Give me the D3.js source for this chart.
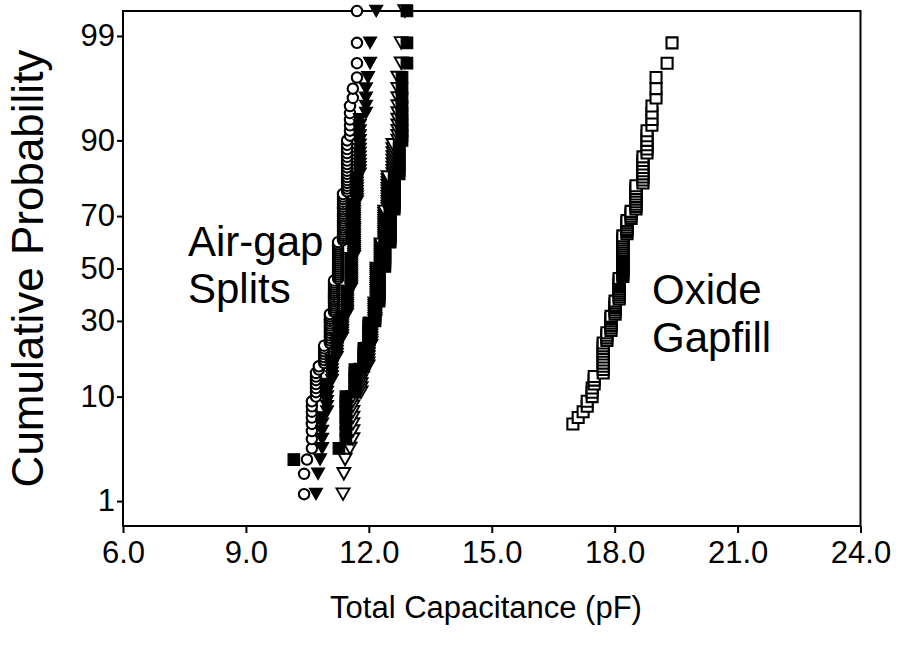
<!DOCTYPE html>
<html>
<head>
<meta charset="utf-8">
<script src="https://cdn.jsdelivr.net/npm/d3@7"></script>
<style>
  body { margin: 0; background: #fff; }
  text { font-family: "Liberation Sans", Arial, sans-serif; fill: #000; }
</style>
</head>
<body>
<svg id="chart"></svg>
<script>

// svg params
var svgWidth = 908, svgHeight = 649;

// axis values
var capTicks = [6, 9, 12, 15, 18, 21, 24];
var probTicks = [1, 10, 30, 50, 70, 90, 99];
var nSites = 125;

// each series: capacitance steps (pF) and how many sites sit on each step, from the lowest rank up
var circleStart = 2;
var circleCap   = [10.42, 10.49, 10.61, 10.71, 10.78, 10.91, 11.05, 11.15, 11.25, 11.37, 11.47, 11.54, 11.61, 11.71];
var circleCount = [2, 1, 8, 7, 2, 7, 13, 16, 19, 21, 16, 6, 2, 4];

var fTriStart = 2;
var fTriCap   = [10.71, 10.76, 10.81, 10.86, 10.98, 11.10, 11.22, 11.35, 11.47, 11.57, 11.64, 11.71, 11.78, 11.93, 11.98, 12.03, 12.18];
var fTriCount = [1, 1, 1, 5, 7, 7, 7, 10, 12, 16, 25, 10, 14, 4, 1, 2, 1];

var oTriStart = 2;
var oTriCap   = [11.37, 11.39, 11.42, 11.54, 11.61, 11.81, 11.98, 12.05, 12.15, 12.20, 12.30, 12.39, 12.47, 12.59, 12.71, 12.79, 12.88];
var oTriCount = [1, 1, 1, 1, 8, 7, 7, 10, 9, 17, 12, 15, 13, 9, 10, 2, 1];

var fSqStart = 4;
var fSqCap   = [10.17, 11.27, 11.44, 11.66, 11.88, 12.00, 12.15, 12.25, 12.39, 12.52, 12.62, 12.74, 12.81, 12.93];
var fSqCount = [1, 1, 8, 7, 7, 10, 9, 17, 12, 15, 13, 9, 10, 3];

var oxStart = 8;
var oxCap   = [16.98, 17.11, 17.23, 17.33, 17.45, 17.50, 17.72, 17.81, 17.91, 18.01, 18.11, 18.20, 18.30, 18.40, 18.52, 18.69, 18.79, 18.91, 19.01, 19.28, 19.40];
var oxCount = [1, 1, 1, 2, 3, 3, 11, 4, 7, 7, 11, 21, 7, 4, 10, 9, 6, 4, 3, 1, 1];

// inverse normal cdf (Acklam)
function probit(p) {
  var a = [-3.969683028665376e+01, 2.209460984245205e+02, -2.759285104469687e+02, 1.383577518672690e+02, -3.066479806614716e+01, 2.506628277459239e+00];
  var b = [-5.447609879822406e+01, 1.615858368580409e+02, -1.556989798598866e+02, 6.680131188771972e+01, -1.328068155288572e+01];
  var c = [-7.784894002430293e-03, -3.223964580411365e-01, -2.400758277161838e+00, -2.549732539343734e+00, 4.374664141464968e+00, 2.938163982698783e+00];
  var d = [7.784695709041462e-03, 3.224671290700398e-01, 2.445134137142996e+00, 3.754408661907416e+00];
  var q, r;
  if (p < 0.02425) {
    q = Math.sqrt(-2 * Math.log(p));
    return (((((c[0]*q+c[1])*q+c[2])*q+c[3])*q+c[4])*q+c[5]) / ((((d[0]*q+d[1])*q+d[2])*q+d[3])*q+1);
  }
  if (p > 1 - 0.02425) {
    q = Math.sqrt(-2 * Math.log(1 - p));
    return -(((((c[0]*q+c[1])*q+c[2])*q+c[3])*q+c[4])*q+c[5]) / ((((d[0]*q+d[1])*q+d[2])*q+d[3])*q+1);
  }
  q = p - 0.5; r = q * q;
  return (((((a[0]*r+a[1])*r+a[2])*r+a[3])*r+a[4])*r+a[5])*q / (((((b[0]*r+b[1])*r+b[2])*r+b[3])*r+b[4])*r+1);
}

// expand steps into ranked points, plotting position (i - 0.5) / n
function rankPoints(start, caps, counts) {
  var pts = [], rank = start;
  caps.forEach(function (v, k) {
    for (var j = 0; j < counts[k]; j++) {
      pts.push({cap: v, z: probit((rank - 0.5) / nSites)});
      rank++;
    }
  });
  return pts;
}

var plotLeft = 123, plotRight = 860.5, plotTop = 11, plotBottom = 526;

var xScale = d3.scaleLinear()
  .domain([6, 24])
  .range([plotLeft, plotRight]);

var yScale = d3.scaleLinear()
  .domain([probit(0.005), probit(0.995)])
  .range([plotBottom, plotTop])
  .clamp(true);

var svg = d3.select("#chart")
  .attr("width", svgWidth)
  .attr("height", svgHeight);

// axes
svg.append("g")
  .attr("transform", "translate(0," + plotBottom + ")")
  .call(d3.axisBottom(xScale).tickValues(capTicks).tickFormat(d3.format(".1f")).tickSize(7).tickPadding(8))
  .call(function (g) {
    g.select(".domain").remove();
    g.selectAll("line").attr("stroke", "#000").attr("stroke-width", 2);
    g.selectAll("text").attr("font-size", 31);
  });

svg.append("g")
  .attr("transform", "translate(" + plotLeft + ",0)")
  .call(d3.axisLeft(yScale).tickValues(probTicks.map(function (t) { return probit(t / 100); }))
    .tickFormat(function (d, i) { return probTicks[i]; }).tickSize(6).tickPadding(2))
  .call(function (g) {
    g.select(".domain").remove();
    g.selectAll("line").attr("stroke", "#000").attr("stroke-width", 2);
    g.selectAll("text").attr("font-size", 31);
  });

// frame
svg.append("rect")
  .attr("x", plotLeft)
  .attr("y", plotTop)
  .attr("width", plotRight - plotLeft)
  .attr("height", plotBottom - plotTop)
  .attr("fill", "none")
  .attr("stroke", "#000")
  .attr("stroke-width", 2);

// marker shapes
function circlePath(r) {
  return "M" + r + ",0A" + r + "," + r + " 0 1,1 " + (-r) + ",0A" + r + "," + r + " 0 1,1 " + r + ",0Z";
}
function triDownPath(w, h) {
  return "M" + (-w / 2) + "," + (-h / 2) + "L" + (w / 2) + "," + (-h / 2) + "L0," + (h / 2) + "Z";
}
function squarePath(s) {
  return "M" + (-s / 2) + "," + (-s / 2) + "h" + s + "v" + s + "h" + (-s) + "Z";
}

function drawSeries(pts, path, fill, sw) {
  svg.append("g")
    .selectAll("path")
    .data(pts)
    .enter()
    .append("path")
    .attr("transform", function (d) { return "translate(" + [xScale(d.cap), yScale(d.z)] + ")"; })
    .attr("d", path)
    .attr("fill", fill)
    .attr("stroke", "#000")
    .attr("stroke-width", sw);
}

drawSeries(rankPoints(circleStart, circleCap, circleCount), circlePath(5.2), "#fff", 2.1);
drawSeries(rankPoints(fTriStart, fTriCap, fTriCount), triDownPath(13, 11.5), "#000", 1.2);
drawSeries(rankPoints(oTriStart, oTriCap, oTriCount), triDownPath(13, 11.5), "#fff", 1.9);
drawSeries(rankPoints(fSqStart, fSqCap, fSqCount), squarePath(11.5), "#000", 1.2);
drawSeries(rankPoints(oxStart, oxCap, oxCount), squarePath(11), "#fff", 2.1);

// axis titles
svg.append("text")
  .text("Total Capacitance (pF)")
  .attr("x", 486)
  .attr("y", 618)
  .attr("text-anchor", "middle")
  .attr("font-size", 31);

svg.append("text")
  .text("Cumulative Probability")
  .attr("transform", "translate(43," + (plotTop + plotBottom) / 2 + ") rotate(-90)")
  .attr("text-anchor", "middle")
  .attr("font-size", 44);

// labels
function labelText(label, x, y) {
  svg.append("text")
    .text(label)
    .attr("x", x)
    .attr("y", y)
    .attr("font-size", 42);
}

labelText("Air-gap", 188, 256);
labelText("Splits", 188, 303);
labelText("Oxide", 652, 304);
labelText("Gapfill", 652, 352);

</script>
</body>
</html>
